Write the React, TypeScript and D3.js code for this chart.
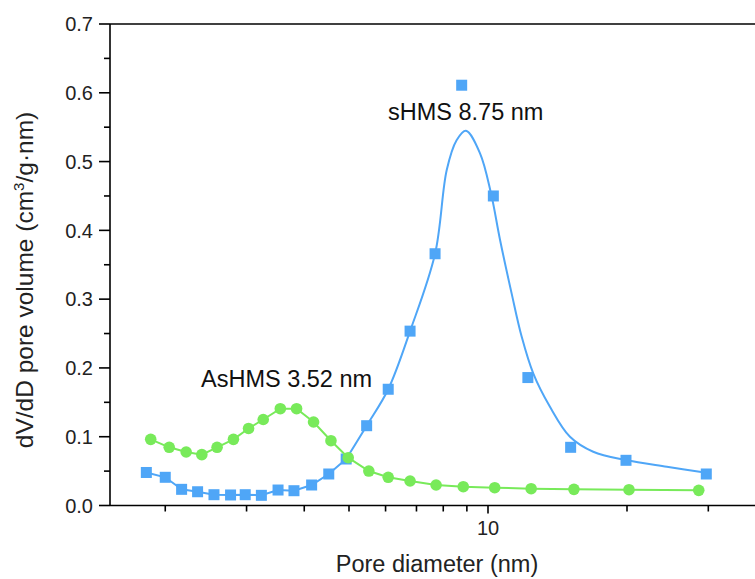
import React from "react";
import * as d3 from "d3";

// sHMS measured points (squares)
const shmsD = [1.82, 2.0, 2.17, 2.35, 2.55, 2.77, 2.98, 3.23, 3.51, 3.8, 4.15, 4.52, 4.93, 5.46, 6.08, 6.78, 7.68, 8.77, 10.27, 12.2, 15.1, 19.9, 29.7];
const shmsV = [0.048, 0.041, 0.0235, 0.02, 0.0157, 0.0153, 0.0157, 0.0148, 0.0225, 0.0215, 0.0298, 0.0458, 0.0676, 0.116, 0.169, 0.2535, 0.366, 0.611, 0.45, 0.186, 0.0846, 0.0657, 0.0458];

// sHMS fitted curve
const shmsFitD = [4.93, 5.46, 6.08, 6.78, 7.68, 8.14, 8.55, 8.96, 9.61, 10.15, 10.62, 11.25, 11.83, 12.53, 13.62, 15.05, 16.9, 19.9, 24.4, 29.7];
const shmsFitV = [0.0676, 0.116, 0.169, 0.2535, 0.366, 0.4877, 0.531, 0.5448, 0.512, 0.4538, 0.386, 0.3084, 0.2453, 0.1922, 0.1436, 0.1, 0.0782, 0.0661, 0.0564, 0.0477];

// AsHMS points (circles)
const ashmsD = [1.86, 2.04, 2.22, 2.4, 2.59, 2.81, 3.03, 3.26, 3.55, 3.85, 4.19, 4.57, 4.98, 5.52, 6.08, 6.78, 7.72, 8.84, 10.34, 12.4, 15.35, 20.2, 28.6];
const ashmsV = [0.0962, 0.0846, 0.0778, 0.0739, 0.0846, 0.0962, 0.112, 0.125, 0.1407, 0.1407, 0.1214, 0.0942, 0.0695, 0.0501, 0.041, 0.0356, 0.0298, 0.0273, 0.0259, 0.0244, 0.0235, 0.023, 0.022];

const yTicks = [0, 0.1, 0.2, 0.3, 0.4, 0.5, 0.6, 0.7];
const yMinor = [0.05, 0.15, 0.25, 0.35, 0.45, 0.55, 0.65];
const xTicks = [2, 3, 4, 5, 6, 7, 8, 9, 10, 20, 30];
const xLabels = [10];

const BLUE = "#4fa6f7";
const GREEN = "#78ea5a";
const FONT = "Arial, 'Liberation Sans', sans-serif";

export default function App() {
  const W = 755, H = 579;
  const left = 110, top = 24, bottom = 505.5;
  const x = d3.scaleLog().domain([10, 20]).range([488, 627]);
  const y = d3.scaleLinear().domain([0, 0.7]).range([bottom, top]);

  const shmsPts = shmsD.map((d, i) => [x(d), y(shmsV[i])] as [number, number]);
  const ashmsPts = ashmsD.map((d, i) => [x(d), y(ashmsV[i])] as [number, number]);
  const leftBlue = shmsPts.slice(0, 13);
  const fitPts = shmsFitD.map((d, i) => [x(d), y(shmsFitV[i])] as [number, number]);

  const lin = d3.line().curve(d3.curveLinear);
  const smooth = d3.line().curve(d3.curveCatmullRom.alpha(0.5));

  return (
    <svg width={W} height={H} style={{ position: "absolute", left: 0, top: 0, background: "#fff" }} fontFamily={FONT}>
      {/* frame */}
      <line x1={left} x2={W + 20} y1={top} y2={top} stroke="#000" strokeWidth={1.6} />
      <line x1={left} x2={W + 20} y1={bottom} y2={bottom} stroke="#000" strokeWidth={1.6} />
      <line x1={left} x2={left} y1={top} y2={bottom} stroke="#000" strokeWidth={1.6} />
      {/* y ticks */}
      {yTicks.map((t) => (
        <g key={"y" + t}>
          <line x1={left - 11} x2={left} y1={y(t)} y2={y(t)} stroke="#000" strokeWidth={1.6} />
          <text x={93} y={y(t)} dy="0.36em" textAnchor="end" fontSize={20} fill="#222">
            {t.toFixed(1)}
          </text>
        </g>
      ))}
      {yMinor.map((t) => (
        <line key={"ym" + t} x1={left - 6} x2={left} y1={y(t)} y2={y(t)} stroke="#000" strokeWidth={1.6} />
      ))}
      {/* x ticks */}
      {xTicks.map((t) => (
        <line key={"x" + t} x1={x(t)} x2={x(t)} y1={bottom} y2={bottom + (t === 10 ? 8 : 6)} stroke="#000" strokeWidth={1.6} />
      ))}
      {xLabels.map((t) => (
        <text key={"xl" + t} x={x(t)} y={535} textAnchor="middle" fontSize={20} fill="#222">
          {t}
        </text>
      ))}
      {/* axis titles */}
      <text x={437} y={572} textAnchor="middle" fontSize={23.5} fill="#222">
        Pore diameter (nm)
      </text>
      <text transform={`translate(33, 280) rotate(-90)`} textAnchor="middle" fontSize={24.5} fill="#222">
        dV/dD pore volume (cm<tspan dy={-9} fontSize={15}>3</tspan>
        <tspan dy={9}>/g·nm)</tspan>
      </text>

      {/* sHMS */}
      <path d={lin(leftBlue) || ""} fill="none" stroke={BLUE} strokeWidth={2} />
      <path d={smooth(fitPts) || ""} fill="none" stroke={BLUE} strokeWidth={2} />
      {shmsPts.map((p, i) => (
        <rect key={"s" + i} x={p[0] - 5.5} y={p[1] - 5.5} width={11} height={11} fill={BLUE} />
      ))}

      {/* AsHMS */}
      <path d={lin(ashmsPts) || ""} fill="none" stroke={GREEN} strokeWidth={2} />
      {ashmsPts.map((p, i) => (
        <circle key={"c" + i} cx={p[0]} cy={p[1]} r={5.8} fill={GREEN} />
      ))}

      {/* annotations */}
      <text x={388} y={120} fontSize={23.5} fill="#111">sHMS 8.75 nm</text>
      <text x={201} y={387} fontSize={23.5} fill="#111">AsHMS 3.52 nm</text>
    </svg>
  );
}
